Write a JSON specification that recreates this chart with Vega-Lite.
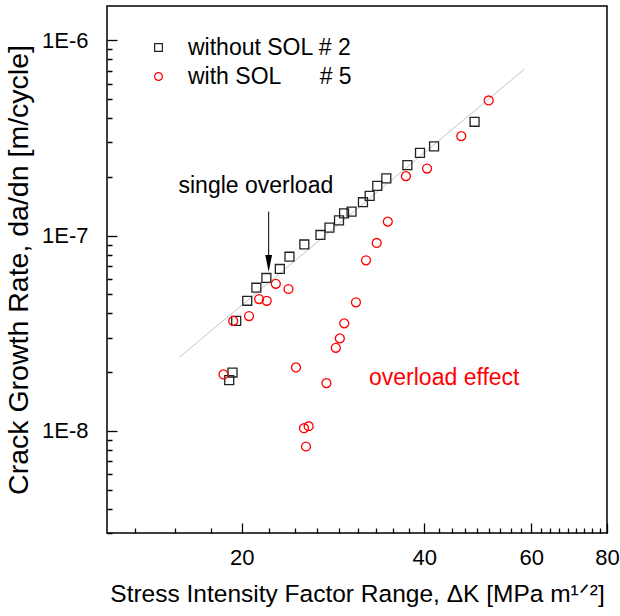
{
  "$schema": "https://vega.github.io/schema/vega-lite/v6.json",
  "width": 500,
  "height": 527,
  "autosize": {"type": "none"},
  "padding": {"left": 107, "top": 6, "right": 13, "bottom": 83},
  "background": "white",
  "config": {
    "font": "Liberation Sans",
    "view": {"stroke": "black", "strokeWidth": 1.5},
    "axis": {"grid": false, "domain": false, "zindex": 2, "tickColor": "black", "tickWidth": 1.3, "labelColor": "black", "titleColor": "black", "labelFont": "Liberation Sans", "titleFont": "Liberation Sans", "titleFontWeight": "normal"}
  },
  "datasets": {
    "points": [
      {"dK": 19.08, "rate": 1.82e-8, "series": "without SOL # 2"},
      {"dK": 19.32, "rate": 1.99e-8, "series": "without SOL # 2"},
      {"dK": 19.59, "rate": 3.66e-8, "series": "without SOL # 2"},
      {"dK": 20.43, "rate": 4.64e-8, "series": "without SOL # 2"},
      {"dK": 21.15, "rate": 5.41e-8, "series": "without SOL # 2"},
      {"dK": 21.97, "rate": 6.07e-8, "series": "without SOL # 2"},
      {"dK": 23.12, "rate": 6.75e-8, "series": "without SOL # 2"},
      {"dK": 23.98, "rate": 7.80e-8, "series": "without SOL # 2"},
      {"dK": 25.37, "rate": 9.01e-8, "series": "without SOL # 2"},
      {"dK": 26.97, "rate": 1.008e-7, "series": "without SOL # 2"},
      {"dK": 27.91, "rate": 1.099e-7, "series": "without SOL # 2"},
      {"dK": 28.94, "rate": 1.197e-7, "series": "without SOL # 2"},
      {"dK": 29.50, "rate": 1.30e-7, "series": "without SOL # 2"},
      {"dK": 30.35, "rate": 1.328e-7, "series": "without SOL # 2"},
      {"dK": 31.69, "rate": 1.483e-7, "series": "without SOL # 2"},
      {"dK": 32.51, "rate": 1.598e-7, "series": "without SOL # 2"},
      {"dK": 33.46, "rate": 1.798e-7, "series": "without SOL # 2"},
      {"dK": 34.63, "rate": 1.965e-7, "series": "without SOL # 2"},
      {"dK": 37.51, "rate": 2.296e-7, "series": "without SOL # 2"},
      {"dK": 39.35, "rate": 2.655e-7, "series": "without SOL # 2"},
      {"dK": 41.51, "rate": 2.867e-7, "series": "without SOL # 2"},
      {"dK": 48.40, "rate": 3.83e-7, "series": "without SOL # 2"},
      {"dK": 18.67, "rate": 1.946e-8, "series": "with SOL\u00a0\u00a0\u00a0\u00a0\u00a0\u00a0# 5"},
      {"dK": 19.37, "rate": 3.66e-8, "series": "with SOL\u00a0\u00a0\u00a0\u00a0\u00a0\u00a0# 5"},
      {"dK": 20.57, "rate": 3.875e-8, "series": "with SOL\u00a0\u00a0\u00a0\u00a0\u00a0\u00a0# 5"},
      {"dK": 21.37, "rate": 4.735e-8, "series": "with SOL\u00a0\u00a0\u00a0\u00a0\u00a0\u00a0# 5"},
      {"dK": 22.0, "rate": 4.64e-8, "series": "with SOL\u00a0\u00a0\u00a0\u00a0\u00a0\u00a0# 5"},
      {"dK": 22.77, "rate": 5.67e-8, "series": "with SOL\u00a0\u00a0\u00a0\u00a0\u00a0\u00a0# 5"},
      {"dK": 23.89, "rate": 5.33e-8, "series": "with SOL\u00a0\u00a0\u00a0\u00a0\u00a0\u00a0# 5"},
      {"dK": 24.58, "rate": 2.114e-8, "series": "with SOL\u00a0\u00a0\u00a0\u00a0\u00a0\u00a0# 5"},
      {"dK": 25.34, "rate": 1.032e-8, "series": "with SOL\u00a0\u00a0\u00a0\u00a0\u00a0\u00a0# 5"},
      {"dK": 25.79, "rate": 1.057e-8, "series": "with SOL\u00a0\u00a0\u00a0\u00a0\u00a0\u00a0# 5"},
      {"dK": 25.53, "rate": 8.32e-9, "series": "with SOL\u00a0\u00a0\u00a0\u00a0\u00a0\u00a0# 5"},
      {"dK": 27.59, "rate": 1.757e-8, "series": "with SOL\u00a0\u00a0\u00a0\u00a0\u00a0\u00a0# 5"},
      {"dK": 28.59, "rate": 2.665e-8, "series": "with SOL\u00a0\u00a0\u00a0\u00a0\u00a0\u00a0# 5"},
      {"dK": 29.03, "rate": 2.977e-8, "series": "with SOL\u00a0\u00a0\u00a0\u00a0\u00a0\u00a0# 5"},
      {"dK": 29.52, "rate": 3.554e-8, "series": "with SOL\u00a0\u00a0\u00a0\u00a0\u00a0\u00a0# 5"},
      {"dK": 30.86, "rate": 4.555e-8, "series": "with SOL\u00a0\u00a0\u00a0\u00a0\u00a0\u00a0# 5"},
      {"dK": 32.06, "rate": 7.476e-8, "series": "with SOL\u00a0\u00a0\u00a0\u00a0\u00a0\u00a0# 5"},
      {"dK": 33.39, "rate": 9.17e-8, "series": "with SOL\u00a0\u00a0\u00a0\u00a0\u00a0\u00a0# 5"},
      {"dK": 34.82, "rate": 1.18e-7, "series": "with SOL\u00a0\u00a0\u00a0\u00a0\u00a0\u00a0# 5"},
      {"dK": 37.30, "rate": 2.017e-7, "series": "with SOL\u00a0\u00a0\u00a0\u00a0\u00a0\u00a0# 5"},
      {"dK": 40.41, "rate": 2.206e-7, "series": "with SOL\u00a0\u00a0\u00a0\u00a0\u00a0\u00a0# 5"},
      {"dK": 46.02, "rate": 3.233e-7, "series": "with SOL\u00a0\u00a0\u00a0\u00a0\u00a0\u00a0# 5"},
      {"dK": 51.07, "rate": 4.924e-7, "series": "with SOL\u00a0\u00a0\u00a0\u00a0\u00a0\u00a0# 5"}
    ],
    "fit": [
      {"dK": 15.78, "rate": 2.378e-8},
      {"dK": 58.5, "rate": 7.13e-7}
    ],
    "arrow": [
      {"dK": 22.16, "rate": 1.328e-7, "rate2": 7.6e-8, "tip": 7.2e-8}
    ],
    "notes": [
      {"dK": 15.74, "rate": 1.656e-7, "label": "single overload", "kind": "black"},
      {"dK": 32.43, "rate": 1.716e-8, "label": "overload effect", "kind": "red"}
    ]
  },
  "layer": [
    {
      "data": {"name": "fit"},
      "mark": {"type": "line", "color": "#c4c4c4", "strokeWidth": 1},
      "encoding": {
        "x": {
          "field": "dK", "type": "quantitative",
          "scale": {"type": "log", "domain": [12, 80], "nice": false},
          "axis": {
            "orient": "bottom",
            "offset": -10,
            "title": "Stress Intensity Factor Range, ΔK [MPa m¹ᐟ²]",
            "titleFontSize": 24.5,
            "titlePadding": 14,
            "values": [13.333, 15.556, 17.778, 20, 22.222, 24.444, 26.667, 28.889, 31.111, 33.333, 35.556, 37.778, 40, 42.222, 44.444, 46.667, 48.889, 51.111, 53.333, 55.556, 57.778, 60, 62.222, 64.444, 66.667, 68.889, 71.111, 73.333, 75.556, 77.778, 80],
            "labelExpr": "(datum.value===20||datum.value===40||datum.value===60||datum.value===80) ? datum.label : ''",
            "format": "d",
            "labelFontSize": 22,
            "labelFlush": false,
            "labelOverlap": false,
            "tickSize": 10,
            "tickDash": {"condition": {"test": "datum.value===20||datum.value===40||datum.value===60||datum.value===80", "value": [10, 0]}, "value": [0, 5, 5, 30]},
            "labelPadding": 14
          }
        },
        "y": {
          "field": "rate", "type": "quantitative",
          "scale": {"type": "log", "domain": [3e-9, 1.5e-6], "nice": false},
          "axis": {
            "orient": "left",
            "offset": -10,
            "title": "Crack Growth Rate, da/dn [m/cycle]",
            "titleFontSize": 28.5,
            "titlePadding": 8,
            "values": [3e-9, 4e-9, 5e-9, 6e-9, 7e-9, 8e-9, 9e-9, 1e-8, 2e-8, 3e-8, 4e-8, 5e-8, 6e-8, 7e-8, 8e-8, 9e-8, 1e-7, 2e-7, 3e-7, 4e-7, 5e-7, 6e-7, 7e-7, 8e-7, 9e-7, 1e-6],
            "labelExpr": "datum.value===1e-6 ? '1E-6' : datum.value===1e-7 ? '1E-7' : datum.value===1e-8 ? '1E-8' : ''",
            "labelFontSize": 22,
            "labelOverlap": false,
            "labelFlush": false,
            "tickSize": 10,
            "tickDash": {"condition": {"test": "datum.value===1e-6||datum.value===1e-7||datum.value===1e-8", "value": [10, 0]}, "value": [0, 5, 5, 30]},
            "labelPadding": 19
          }
        }
      }
    },
    {
      "data": {"name": "points"},
      "mark": {"type": "point", "filled": false, "strokeWidth": 1.3, "size": 80, "opacity": 1},
      "encoding": {
        "x": {"field": "dK", "type": "quantitative"},
        "y": {"field": "rate", "type": "quantitative"},
        "color": {
          "field": "series", "type": "nominal",
          "scale": {"domain": ["without SOL # 2", "with SOL\u00a0\u00a0\u00a0\u00a0\u00a0\u00a0# 5"], "range": ["#222222", "#ff0000"]},
          "legend": {
            "orient": "none", "legendX": 40, "legendY": 30, "title": null,
            "labelFontSize": 23, "labelColor": "black", "labelFont": "Liberation Sans",
            "symbolSize": 60, "symbolStrokeWidth": 1.2, "rowPadding": 5, "labelOffset": 18, "padding": 0, "labelLimit": 400
          }
        },
        "shape": {
          "field": "series", "type": "nominal",
          "scale": {"domain": ["without SOL # 2", "with SOL\u00a0\u00a0\u00a0\u00a0\u00a0\u00a0# 5"], "range": ["square", "circle"]}
        }
      }
    },
    {
      "data": {"name": "arrow"},
      "mark": {"type": "rule", "color": "black", "strokeWidth": 1},
      "encoding": {
        "x": {"field": "dK", "type": "quantitative"},
        "y": {"field": "rate", "type": "quantitative"},
        "y2": {"field": "rate2"}
      }
    },
    {
      "data": {"name": "arrow"},
      "mark": {"type": "point", "shape": "M-0.4,-1L0.4,-1L0,1Z", "filled": true, "color": "black", "size": 289, "opacity": 1},
      "encoding": {
        "x": {"field": "dK", "type": "quantitative"},
        "y": {"field": "tip", "type": "quantitative"}
      }
    },
    {
      "data": {"name": "notes"},
      "mark": {"type": "text", "align": "left", "baseline": "alphabetic", "fontSize": 23, "font": "Liberation Sans"},
      "encoding": {
        "x": {"field": "dK", "type": "quantitative"},
        "y": {"field": "rate", "type": "quantitative"},
        "text": {"field": "label"},
        "color": {"condition": {"test": "datum.kind==='red'", "value": "#ff0000"}, "value": "black"}
      }
    }
  ]
}
